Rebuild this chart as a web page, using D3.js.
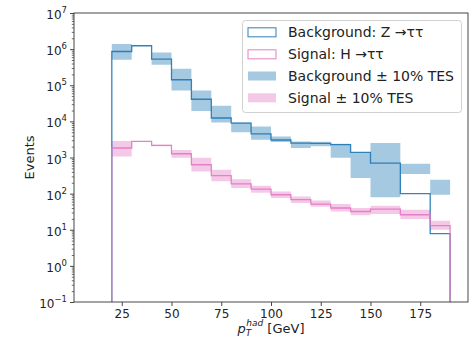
<!DOCTYPE html>
<html>
<head>
<meta charset="utf-8">
<script src="https://cdn.jsdelivr.net/npm/d3@7"></script>
<style>
  html, body { margin: 0; padding: 0; background: #fff; }
  svg { display: block; font-family: "DejaVu Sans", sans-serif; }
</style>
</head>
<body>
<svg id="chart" width="471" height="344"></svg>
<script>
// ---- data ----
const binEdges = [20, 30, 40, 50, 60, 70, 80, 90, 100, 110, 120, 130, 140, 150, 165, 180, 190];
const bkgValues = [8.6e5, 1.24e6, 5.3e5, 1.42e5, 4.1e4, 1.24e4, 9.0e3, 4.5e3, 3.05e3, 2.5e3, 2.45e3, 2.26e3, 1.38e3, 700, 100, 7.8];
const bkgLow    = [5.1e5, 1.22e6, 3.7e5, 7.1e4, 1.94e4, 9.3e3, 5.0e3, 3.1e3, 2.7e3, 1.82e3, 2.04e3, 980, 270, 80, 347, 93];
const bkgHigh   = [1.39e6, 1.27e6, 8.1e5, 2.87e5, 7.2e4, 2.7e4, 9.3e3, 7.2e3, 3.84e3, 2.79e3, 2.75e3, 2.4e3, 1.38e3, 2.5e3, 676, 243];
const sigValues = [1830, 2800, 2160, 1270, 630, 313, 186, 134, 93, 68, 51, 40, 32, 37, 26, 13];
const sigLow    = [1070, 2750, 2060, 980, 412, 219, 143, 105, 76, 55, 43, 32, 25, 27.5, 20, 10];
const sigHigh   = [2880, 2860, 2260, 1620, 977, 457, 251, 166, 115, 83, 65, 52, 40, 46, 35.5, 17.8];
const xTickValues = [25, 50, 75, 100, 125, 150, 175];
const yTickExponents = [-1, 0, 1, 2, 3, 4, 5, 6, 7];
const legendLabels = ["Background: Z \u2192\u03c4\u03c4", "Signal: H \u2192\u03c4\u03c4", "Background \u00b1 10% TES", "Signal \u00b1 10% TES"];

// ---- layout ----
const svg = d3.select("#chart");
const L = 74, R = 468, T = 13, B = 302;
const blue = "#1f77b4", pink = "#e377c2";
const axisColor = "#333", textColor = "#222";

const x = d3.scaleLinear().domain([1, 199]).range([L, R]);
const y = d3.scaleLog().domain([1e-1, 1e7]).range([B, T]);

const defs = svg.append("defs");
defs.append("clipPath").attr("id", "clip").append("rect")
  .attr("x", L).attr("y", T).attr("width", R - L).attr("height", B - T);

const plot = svg.append("g").attr("clip-path", "url(#clip)");

// bands
function bandData(lo, hi) {
  const d = binEdges.slice(0, -1).map((e, i) => ({ e, lo: lo[i], hi: hi[i] }));
  d.push({ e: binEdges[binEdges.length - 1], lo: lo[lo.length - 1], hi: hi[hi.length - 1] });
  return d;
}
const area = d3.area().curve(d3.curveStepAfter)
  .x(d => x(d.e)).y0(d => y(d.lo)).y1(d => y(d.hi));

plot.append("path").datum(bandData(bkgLow, bkgHigh))
  .attr("d", area).attr("fill", blue).attr("fill-opacity", 0.4);
plot.append("path").datum(bandData(sigLow, sigHigh))
  .attr("d", area).attr("fill", pink).attr("fill-opacity", 0.4);

// step lines
function stepPoints(vals) {
  const pts = [[x(binEdges[0]), B + 5]];
  vals.forEach((v, i) => {
    pts.push([x(binEdges[i]), y(v)]);
    pts.push([x(binEdges[i + 1]), y(v)]);
  });
  pts.push([x(binEdges[binEdges.length - 1]), B + 5]);
  return pts;
}
const line = d3.line();
plot.append("path").attr("d", line(stepPoints(bkgValues)))
  .attr("fill", "none").attr("stroke", blue).attr("stroke-width", 1.3).attr("stroke-opacity", 0.9);
plot.append("path").attr("d", line(stepPoints(sigValues)))
  .attr("fill", "none").attr("stroke", pink).attr("stroke-width", 1.3).attr("stroke-opacity", 0.9);

// ---- axes ----
// x axis
const xAxis = svg.append("g").attr("transform", `translate(0,${B})`)
  .call(d3.axisBottom(x).tickValues(xTickValues).tickSize(4).tickPadding(3).tickFormat(d3.format("d")));
xAxis.select(".domain").remove();
xAxis.selectAll("line").attr("stroke", axisColor).attr("stroke-width", 0.9);
xAxis.selectAll("text").attr("font-size", 12).attr("fill", textColor)
  .attr("font-family", "DejaVu Sans, sans-serif");

// y axis major + minor ticks
const yMajor = yTickExponents.map(e => Math.pow(10, e));
const yMinor = [];
yTickExponents.slice(0, -1).forEach(e => {
  for (let k = 2; k <= 9; k++) yMinor.push(k * Math.pow(10, e));
});
const yAxisMinor = svg.append("g").attr("transform", `translate(${L},0)`)
  .call(d3.axisLeft(y).tickValues(yMinor).tickSize(2.2).tickFormat(""));
yAxisMinor.select(".domain").remove();
yAxisMinor.selectAll("line").attr("stroke", axisColor).attr("stroke-width", 0.7);

const yAxisMajor = svg.append("g").attr("transform", `translate(${L},0)`)
  .call(d3.axisLeft(y).tickValues(yMajor).tickSize(4).tickFormat(""));
yAxisMajor.select(".domain").remove();
yAxisMajor.selectAll("line").attr("stroke", axisColor).attr("stroke-width", 0.9);

const yLab = svg.append("g");
yTickExponents.forEach(e => {
  const t = yLab.append("text")
    .attr("x", 67).attr("y", y(Math.pow(10, e)) + 6)
    .attr("text-anchor", "end").attr("font-size", 12).attr("fill", textColor);
  t.append("tspan").text("10");
  t.append("tspan").attr("font-size", 8.5).attr("dy", -6).text(e < 0 ? "\u2212" + Math.abs(e) : String(e));
});

// frame
svg.append("rect").attr("x", L).attr("y", T).attr("width", R - L).attr("height", B - T)
  .attr("fill", "none").attr("stroke", axisColor).attr("stroke-width", 0.9);

// axis labels
svg.append("text")
  .attr("transform", `translate(34,${(T + B) / 2}) rotate(-90)`)
  .attr("text-anchor", "middle").attr("font-size", 13).attr("fill", textColor)
  .text("Events");

const xl = svg.append("text")
  .attr("x", (L + R) / 2).attr("y", 333)
  .attr("text-anchor", "middle").attr("font-size", 13).attr("fill", textColor);
xl.append("tspan").attr("font-style", "italic").text("p");
xl.append("tspan").attr("font-style", "italic").attr("font-size", 9).attr("dy", 3).text("T");
xl.append("tspan").attr("font-style", "italic").attr("font-size", 9).attr("dx", -5).attr("dy", -10).text("had");
xl.append("tspan").attr("dy", 7).text(" [GeV]");

// ---- legend ----
const lg = svg.append("g");
lg.append("rect").attr("x", 242.5).attr("y", 20.5).attr("width", 219).attr("height", 92)
  .attr("rx", 3).attr("fill", "#fff").attr("fill-opacity", 0.85)
  .attr("stroke", "#d0d0d0").attr("stroke-width", 1);
const rowY = [32.3, 54.3, 76, 97.8];
const handleStyles = [
  { fill: "none", stroke: blue },
  { fill: "none", stroke: pink },
  { fill: blue, stroke: "none" },
  { fill: pink, stroke: "none" }
];
legendLabels.forEach((lab, i) => {
  const h = handleStyles[i];
  lg.append("rect").attr("x", 248).attr("y", rowY[i] - 4.5).attr("width", 28).attr("height", 9)
    .attr("fill", h.fill).attr("fill-opacity", h.fill === "none" ? null : 0.4)
    .attr("stroke", h.stroke).attr("stroke-width", 1.1).attr("stroke-opacity", 0.85);
  lg.append("text").attr("x", 288).attr("y", rowY[i] + 5)
    .attr("font-size", 14).attr("fill", textColor).text(lab);
});
</script>
</body>
</html>
